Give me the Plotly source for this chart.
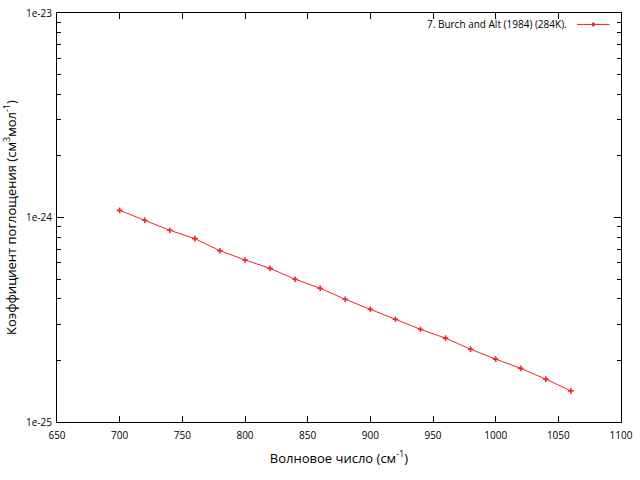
import plotly.graph_objects as go

wavenumber = [700, 720, 740, 760, 780, 800, 820, 840, 860, 880, 900, 920, 940, 960, 980, 1000, 1020, 1040, 1060]
absorption = [1.084e-24, 9.69e-25, 8.66e-25, 7.88e-25, 6.88e-25, 6.20e-25, 5.64e-25, 4.99e-25, 4.51e-25,
              3.98e-25, 3.56e-25, 3.18e-25, 2.84e-25, 2.57e-25, 2.27e-25, 2.03e-25, 1.83e-25, 1.62e-25, 1.42e-25]
series_name = "7. Burch and Alt (1984) (284K)."
x_ticks = [650, 700, 750, 800, 850, 900, 950, 1000, 1050, 1100]
y_major = [1e-25, 1e-24, 1e-23]
y_major_text = ["1e-25", "1e-24", "1e-23"]
y_minor = [m * 10.0 ** e for e in (-25, -24) for m in range(2, 10)]

RED = "rgb(235,40,40)"
FONT = "Open Sans"

fig = go.Figure()
fig.add_trace(go.Scatter(
    x=wavenumber, y=absorption, mode="lines+markers",
    line=dict(color=RED, width=1),
    marker=dict(symbol="cross-thin", size=4, line=dict(color=RED, width=1.6), color=RED),
    showlegend=False,
))

fig.update_layout(
    width=640, height=480,
    margin=dict(l=57, r=19, t=13, b=58, autoexpand=False),
    paper_bgcolor="white", plot_bgcolor="white",
    font=dict(family=FONT, size=10, color="black"),
    xaxis=dict(
        range=[650, 1100], tickvals=x_ticks, ticks="inside", ticklen=6, tickwidth=1,
        tickcolor="black", showline=True, linecolor="black", linewidth=1, mirror="ticks",
        showgrid=False, zeroline=False, automargin=False, ticklabelstandoff=4,
        title=dict(text="Волновое число (см<sup>-1</sup>)", font=dict(size=13, family=FONT), standoff=12),
    ),
    yaxis=dict(
        type="log", range=[-25, -23], tickvals=y_major, ticktext=y_major_text,
        ticks="inside", ticklen=7, tickwidth=1, tickcolor="black",
        showline=True, linecolor="black", linewidth=1, mirror="ticks",
        showgrid=False, zeroline=False, automargin=False, ticklabelstandoff=2,
        minor=dict(tickvals=y_minor, ticks="inside", ticklen=4, tickcolor="black", showgrid=False),
        title=dict(text="Коэффициент поглощения (см<sup>3</sup>мол<sup>-1</sup>)", font=dict(size=13, family=FONT), standoff=6),
    ),
    annotations=[dict(
        x=0.908, y=0.972, xref="paper", yref="paper", xanchor="right", yanchor="middle",
        text=series_name, showarrow=False, font=dict(size=10, family=FONT),
    )],
    shapes=[
        dict(type="line", xref="paper", yref="paper", x0=0.922, x1=0.98, y0=0.972, y1=0.972,
             line=dict(color=RED, width=1)),
        dict(type="circle", xref="paper", yref="paper", x0=0.949, x1=0.953, y0=0.9675, y1=0.9765,
             line=dict(color=RED, width=1), fillcolor=RED),
    ],
)

fig.write_html("out.html", config={"displayModeBar": False},
               post_script="document.body.style.margin='0';document.body.style.overflow='hidden';")
